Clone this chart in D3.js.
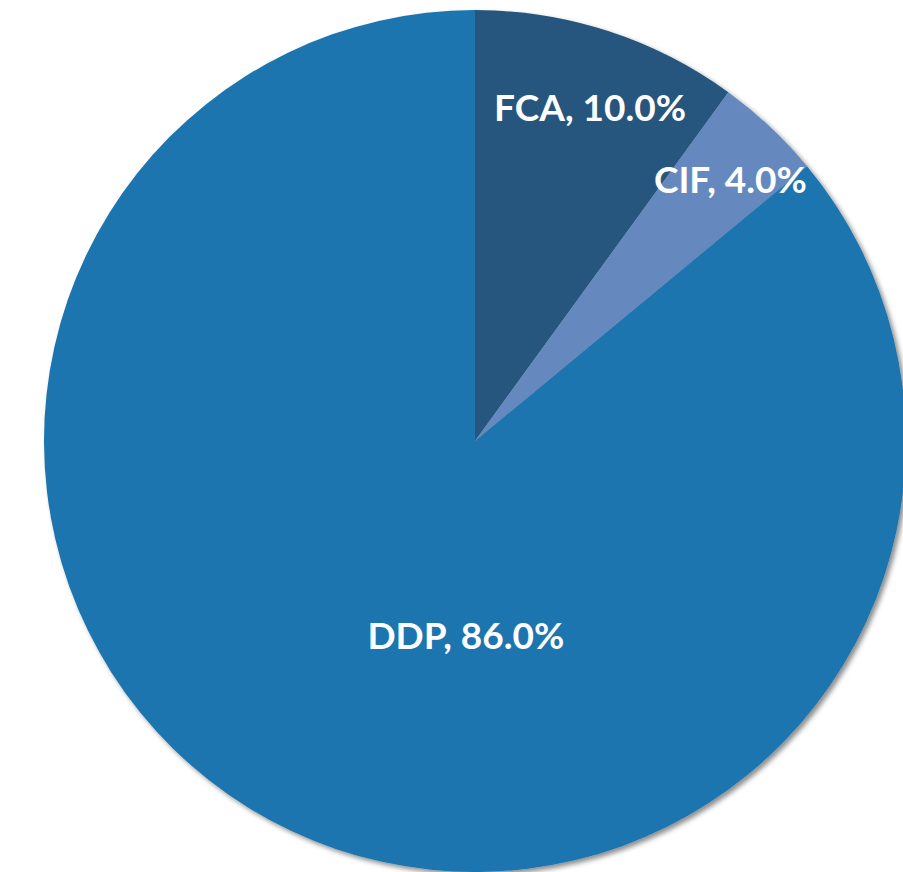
<!DOCTYPE html>
<html lang="en">
<head>
    <meta charset="UTF-8">
    <title>Incoterms share</title>
    <script src="https://d3js.org/d3.v7.min.js"></script>
    <style>
        body{
            margin: 0;
            background: #ffffff;
        }
        #chart{
            width: 903px;
            height: 872px;
            display: block;
        }
        .label{
            font-family: Lato, "Open Sans", sans-serif;
            font-weight: bold;
            font-size: 37px;
            fill: #ffffff;
        }
    </style>
</head>
<body>
<svg id="chart"></svg>
<script>
    // slice data, clockwise from 12 o'clock
    const terms = ["FCA", "CIF", "DDP"]
    const shares = [10.0, 4.0, 86.0]
    const sliceColors = ["#26577e", "#6589be", "#1b75af"]

    const size = {width: 903, height: 872}
    const center = {x: 475, y: 441}
    const radius = 431

    const svg = d3.select("#chart")
        .attr("viewBox", [0, 0, size.width, size.height])

    // soft grey shadow down-right, like the office chart
    const defs = svg.append("defs")
    defs.append("filter")
        .attr("id", "shadow")
        .attr("x", "-10%").attr("y", "-10%")
        .attr("width", "120%").attr("height", "120%")
        .append("feDropShadow")
        .attr("dx", 3).attr("dy", 3)
        .attr("stdDeviation", 2.5)
        .attr("flood-color", "#000")
        .attr("flood-opacity", 0.45)

    const data = terms.map((t, i) => ({term: t, value: shares[i], color: sliceColors[i]}))

    const pie = d3.pie().sort(null).value(d => d.value)
    const arcs = pie(data)
    const arc = d3.arc().innerRadius(0).outerRadius(radius)

    const g = svg.append("g")
        .attr("transform", `translate(${center.x},${center.y})`)

    g.append("g")
        .attr("filter", "url(#shadow)")
        .selectAll("path")
        .data(arcs)
        .enter()
        .append("path")
        .attr("d", arc)
        .attr("fill", d => d.data.color)

    // label spots: thin slices sit nearer the rim, the big one lower down
    function labelPoint(d) {
        let a = (d.startAngle + d.endAngle) / 2 + Math.PI / 180
        let r = radius * (0.87 - d.data.value / 200)
        if (d.endAngle - d.startAngle > Math.PI) {
            a = Math.PI * 1.015
            r = radius * 0.45
        }
        return [r * Math.sin(a), -r * Math.cos(a)]
    }

    g.selectAll(".label")
        .data(arcs)
        .enter()
        .append("text")
        .attr("class", "label")
        .attr("text-anchor", "middle")
        .attr("dominant-baseline", "central")
        .attr("x", d => labelPoint(d)[0])
        .attr("y", d => labelPoint(d)[1])
        .text(d => `${d.data.term}, ${d3.format(".1f")(d.data.value)}%`)
</script>
</body>
</html>
